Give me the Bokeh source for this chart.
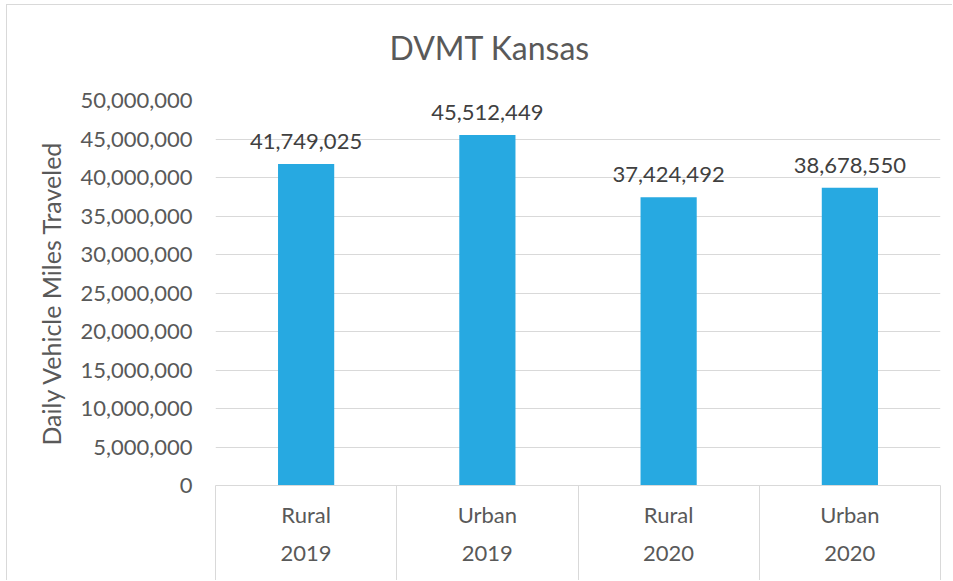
from bokeh.plotting import figure
from bokeh.models import Range1d, LinearAxis, FixedTicker, NumeralTickFormatter, ColumnDataSource, LabelSet, Title
from bokeh.core.properties import value
from bokeh.embed import file_html
from bokeh.resources import INLINE

# ---- data ----
title_text = "DVMT Kansas"
area_types = ["Rural", "Urban", "Rural", "Urban"]
years = ["2019", "2019", "2020", "2020"]
dvmt = [41749025, 45512449, 37424492, 38678550]
y_ticks = [0, 5000000, 10000000, 15000000, 20000000, 25000000,
           30000000, 35000000, 40000000, 45000000, 50000000]

FONT = "Lato"
GRID = "#D9D9D9"
TXT = "#595959"

n = len(dvmt)
centers = list(range(n))
bounds = [i - 0.5 for i in range(n + 1)]

p = figure(width=946, height=576, output_backend="svg", toolbar_location=None,
           x_range=Range1d(-0.5, n - 0.5), y_range=Range1d(0, 50000000),
           x_axis_location=None,
           min_border_left=208, min_border_right=13, min_border_top=95, min_border_bottom=96)
p.outline_line_color = None
p.background_fill_color = "white"
p.border_fill_color = "white"
p.styles = {"margin-left": "6px", "margin-top": "4px",
            "border-left": "1px solid #D9D9D9", "border-top": "1px solid #D9D9D9"}

# title (a thin spacer keeps the title clear of the plot area)
spacer = Title(text=" ", text_font_size="1px", standoff=26)
p.add_layout(spacer, "above")
main_title = Title(text=title_text, align="left", offset=174, text_font=FONT,
                   text_font_size="32px", text_font_style="normal", text_color=TXT,
                   standoff=10)
p.add_layout(main_title, "above")

# y axis
yax = p.yaxis[0]
yax.ticker = FixedTicker(ticks=y_ticks)
yax.formatter = NumeralTickFormatter(format="0,0")
yax.axis_line_color = None
yax.major_tick_line_color = None
yax.minor_tick_line_color = None
yax.major_label_standoff = 17
yax.major_label_text_font = FONT
yax.major_label_text_font_size = "22px"
yax.major_label_text_color = TXT
yax.axis_label = "Daily Vehicle Miles Traveled"
yax.axis_label_text_font = FONT
yax.axis_label_text_font_size = "25px"
yax.axis_label_text_font_style = "normal"
yax.axis_label_text_color = TXT
yax.axis_label_standoff = 11

p.ygrid.ticker = FixedTicker(ticks=y_ticks)
p.ygrid.grid_line_color = GRID
p.xgrid.visible = False

# category axes
ax1 = LinearAxis(ticker=FixedTicker(ticks=centers, minor_ticks=bounds),
                 major_label_overrides={c: t for c, t in zip(centers, area_types)})
ax1.axis_line_color = GRID
ax1.major_tick_line_color = None
ax1.major_tick_out = 0
ax1.major_tick_in = 0
ax1.minor_tick_line_color = GRID
ax1.minor_tick_out = 96
ax1.minor_tick_in = 0
ax1.major_label_standoff = -81
ax1.major_label_text_font = FONT
ax1.major_label_text_font_size = "22px"
ax1.major_label_text_color = TXT
p.add_layout(ax1, "below")

ax2 = LinearAxis(ticker=FixedTicker(ticks=centers),
                 major_label_overrides={c: y for c, y in zip(centers, years)})
ax2.axis_line_color = None
ax2.major_tick_line_color = None
ax2.major_tick_out = 0
ax2.major_tick_in = 0
ax2.minor_tick_line_color = None
ax2.major_label_standoff = 15
ax2.major_label_text_font = FONT
ax2.major_label_text_font_size = "22px"
ax2.major_label_text_color = TXT
p.add_layout(ax2, "below")

# bars
src = ColumnDataSource(dict(x=centers, top=dvmt, label=[f"{v:,}" for v in dvmt]))
p.vbar(x="x", top="top", width=0.31, source=src, fill_color="#27A9E1", line_color=None)

labels = LabelSet(x="x", y="top", text="label", source=src, text_align="center",
                  text_baseline="alphabetic", y_offset=15, text_font=value(FONT),
                  text_font_size=value("22px"), text_color="#404040")
p.add_layout(labels)

open("out.html", "w").write(file_html(p, INLINE))
